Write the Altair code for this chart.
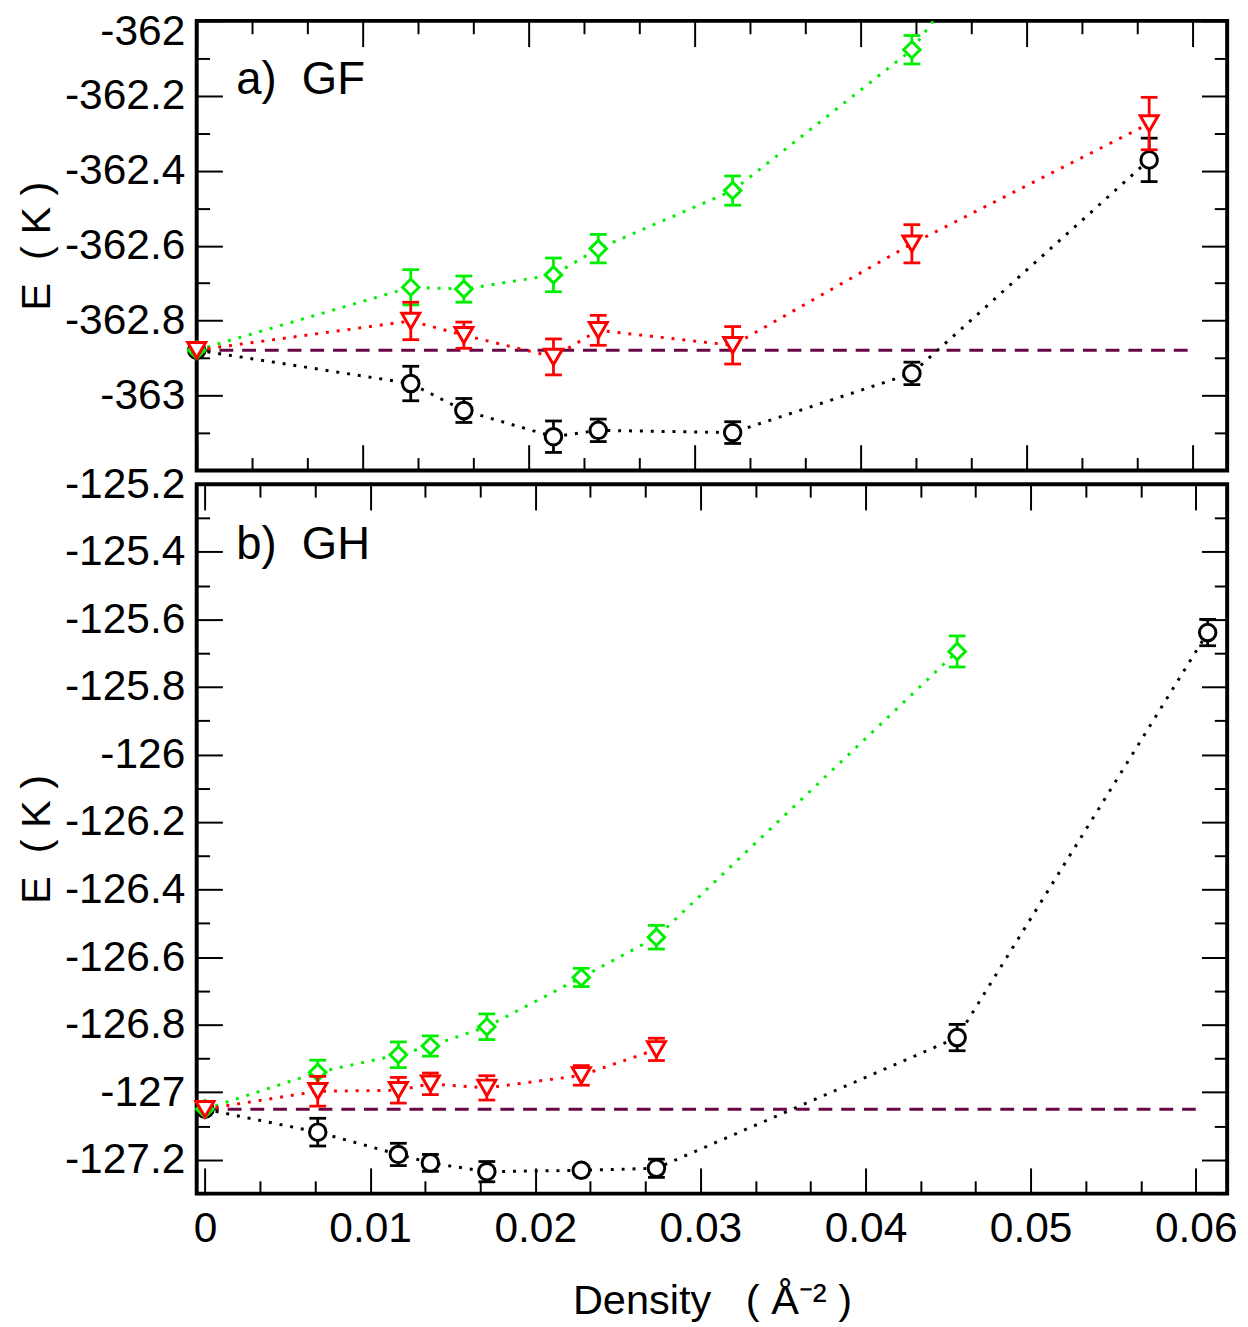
import altair as alt
import pandas as pd

# ---------------- data ----------------
# panel a) GF
gf_x = [0.0, 0.0129, 0.0161, 0.0215, 0.0242, 0.0323, 0.0431, 0.0574]
gf_black = [-362.879, -362.968, -363.040, -363.110, -363.093, -363.099, -362.941, -362.371]
gf_black_err = [0.0, 0.046, 0.032, 0.042, 0.030, 0.029, 0.030, 0.058]
gf_red = [-362.879, -362.801, -362.839, -362.897, -362.826, -362.866, -362.595, -362.274]
gf_red_err = [0.0, 0.050, 0.035, 0.048, 0.040, 0.050, 0.051, 0.070]
gf_green = [-362.879, -362.711, -362.716, -362.678, -362.608, -362.453, -362.077, -361.22]
gf_green_err = [0.0, 0.047, 0.035, 0.045, 0.038, 0.039, 0.038, 0.060]
gf_ref = -362.879

# panel b) GH
gh_x = [0.0, 0.00683, 0.01171, 0.01365, 0.01707, 0.02279, 0.02734, 0.04555, 0.06072]
gh_black = [-127.05, -127.118, -127.184, -127.209, -127.235, -127.231, -127.225, -126.838, -125.639]
gh_black_err = [0.0, 0.041, 0.033, 0.025, 0.030, 0.012, 0.027, 0.039, 0.039]
gh_red_x = [0.0, 0.00683, 0.01171, 0.01365, 0.01707, 0.02279, 0.02734]
gh_red = [-127.05, -126.997, -126.994, -126.975, -126.987, -126.950, -126.873]
gh_red_err = [0.0, 0.044, 0.038, 0.032, 0.036, 0.029, 0.033]
gh_green_x = [0.0, 0.00683, 0.01171, 0.01365, 0.01707, 0.02279, 0.02734, 0.04555]
gh_green = [-127.05, -126.941, -126.889, -126.863, -126.806, -126.660, -126.541, -125.695]
gh_green_err = [0.0, 0.036, 0.038, 0.030, 0.038, 0.027, 0.035, 0.046]
gh_ref = -127.05

ref_x_range = [0.0, 0.06]

# tick values
x_ticks = [round(i / 300, 6) for i in range(0, 19)]
gf_y_ticks = [-363.2, -363.1, -363.0, -362.9, -362.8, -362.7, -362.6, -362.5,
              -362.4, -362.3, -362.2, -362.1, -362.0]
gh_y_ticks = [-127.3, -127.2, -127.1, -127.0, -126.9, -126.8, -126.7, -126.6,
              -126.5, -126.4, -126.3, -126.2, -126.1, -126.0, -125.9, -125.8,
              -125.7, -125.6, -125.5, -125.4, -125.3, -125.2]

gf_xdom = [0.0, 0.0621]
gh_xdom = [-0.0005, 0.0619]
gf_ydom = [-363.2, -362.0]
gh_ydom = [-127.3, -125.2]

panel_labels = ["a)\u00a0\u00a0GF", "b)\u00a0\u00a0GH"]
x_title = "Density\u00a0\u00a0\u00a0(\u00a0Å⁻²\u00a0)"
y_title = "E\u00a0\u00a0(\u00a0K\u00a0)"

FONT = "Liberation Sans"
BLACK = "#000000"
RED = "#ff0000"
GREEN = "#00ee00"
MAROON = "#670748"

MAJ_X = "abs(datum.value*100 - round(datum.value*100)) < 1e-6"
MAJ_Y = "abs(datum.value*5 - round(datum.value*5)) < 1e-6"
FMT = "replace(format(datum.value, '~g'), '\u2212', '-')"


def tick_size(maj):
    return alt.ExprRef(expr=f"({maj} ? -26 : -13)")


def make_df(xs, ys, errs):
    return pd.DataFrame({"x": xs, "E": ys, "err": errs})


def panel(series, ref_y, xdom, ydom, yticks, label, label_y, is_top, height):
    xs = alt.Scale(domain=xdom, nice=False, zero=False)
    ys = alt.Scale(domain=ydom, nice=False, zero=False)
    common = dict(domain=False, grid=False, tickColor=BLACK, tickWidth=2,
                  labelFont=FONT, labelFontSize=43, labelColor=BLACK,
                  labelFlush=False, labelOverlap=False,
                  titleFont=FONT, titleFontSize=42, titleFontWeight="normal",
                  titleColor=BLACK)
    if is_top:
        ax_x = alt.Axis(orient="bottom", values=x_ticks, tickSize=tick_size(MAJ_X),
                        labels=False, title=None, **common)
        ylab = f"(({MAJ_Y}) && datum.value > -363.1) ? {FMT} : ''"
        ax_y = alt.Axis(orient="left", values=yticks, tickSize=tick_size(MAJ_Y),
                        labelExpr=ylab, labelPadding=38,
                        labelOffset=alt.ExprRef(expr="(datum.value > -362.05 ? 11 : 0)"),
                        title=y_title, titlePadding=6, **common)
    else:
        ax_x = alt.Axis(orient="bottom", values=x_ticks, tickSize=tick_size(MAJ_X),
                        labelExpr=f"({MAJ_X}) ? {FMT} : ''", labelPadding=40,
                        title=x_title, titlePadding=18, **common)
        ax_y = alt.Axis(orient="left", values=yticks, tickSize=tick_size(MAJ_Y),
                        labelExpr=f"({MAJ_Y}) ? {FMT} : ''", labelPadding=38,
                        title=y_title, titlePadding=6, **common)
    ax_xm = alt.Axis(orient="top", values=x_ticks, tickSize=tick_size(MAJ_X),
                     labels=False, title=None, **common)
    ax_ym = alt.Axis(orient="right", values=yticks, tickSize=tick_size(MAJ_Y),
                     labels=False, title=None, **common)

    def X(f):
        return alt.X(f + ":Q", scale=xs, axis=ax_x)

    def Y(f):
        return alt.Y(f + ":Q", scale=ys, axis=ax_y)

    layers = []
    ref_df = pd.DataFrame({"x0": [ref_x_range[0]], "x1": [ref_x_range[1]], "E": [ref_y]})
    layers.append(alt.Chart(ref_df).mark_rule(color=MAROON, strokeWidth=3,
                                               strokeDash=[14, 9]).encode(
        x=X("x0"), x2="x1", y=Y("E")))
    for _, color, _, _, df in series:
        layers.append(alt.Chart(df).mark_line(color=color, strokeWidth=3,
                                              strokeDash=[3, 8], clip=True).encode(
            x=X("x"), y=Y("E")))
    flt = f"datum.E <= {ydom[1]}"
    for _, color, shape, size, df in series:
        eb = alt.Chart(df).transform_filter(flt).transform_filter("datum.err > 0").transform_calculate(
            lo="datum.E - datum.err", hi="datum.E + datum.err")
        layers.append(eb.mark_rule(color=color, strokeWidth=2.8).encode(
            x=X("x"), y=Y("lo"), y2="hi"))
        for end in ["lo", "hi"]:
            layers.append(eb.mark_tick(color=color, orient="horizontal", size=17,
                                       thickness=2.8, opacity=1).encode(
                x=X("x"), y=Y(end)))
        layers.append(alt.Chart(df).transform_filter(flt).mark_point(
            shape=shape, size=size, filled=True, fill="white", stroke=color,
            strokeWidth=3, opacity=1).encode(x=X("x"), y=Y("E")))
    layers.append(alt.Chart(pd.DataFrame({"t": [label]})).mark_text(
        align="left", baseline="alphabetic", font=FONT, fontSize=46, color=BLACK).encode(
        text="t:N", x=alt.value(40), y=alt.value(label_y)))

    inner = alt.layer(*layers)
    mirror = alt.Chart(series[0][4]).mark_point(opacity=0, size=1).encode(
        x=alt.X("x:Q", scale=xs, axis=ax_xm),
        y=alt.Y("E:Q", scale=ys, axis=ax_ym))
    return alt.layer(inner, mirror).resolve_axis(x="independent", y="independent").properties(
        width=1043, height=height)


gf_series = [
    ("black", BLACK, "circle", 280, make_df(gf_x, gf_black, gf_black_err)),
    ("green", GREEN, "diamond", 280, make_df(gf_x, gf_green, gf_green_err)),
    ("red", RED, "triangle-down", 330, make_df(gf_x, gf_red, gf_red_err)),
]
gh_series = [
    ("black", BLACK, "circle", 280, make_df(gh_x, gh_black, gh_black_err)),
    ("green", GREEN, "diamond", 280, make_df(gh_green_x, gh_green, gh_green_err)),
    ("red", RED, "triangle-down", 330, make_df(gh_red_x, gh_red, gh_red_err)),
]

top = panel(gf_series, gf_ref, gf_xdom, gf_ydom, gf_y_ticks, panel_labels[0], 74, True, 455)
bottom = panel(gh_series, gh_ref, gh_xdom, gh_ydom, gh_y_ticks, panel_labels[1], 76, False, 718)

chart = alt.vconcat(top, bottom, spacing=14, bounds="flush").properties(
    padding={"left": 6, "right": 0, "top": -7, "bottom": 0},
    background="white",
).configure(font=FONT).configure_view(stroke=BLACK, strokeWidth=4, fill="white")

chart.save("out.html", embed_options={"renderer": "svg", "actions": False})
